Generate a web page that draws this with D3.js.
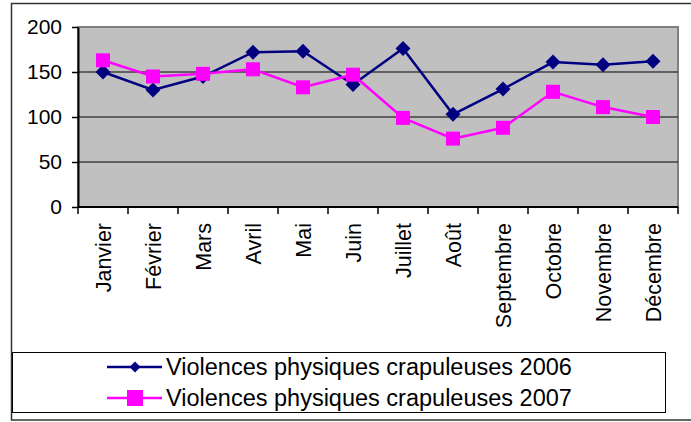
<!DOCTYPE html>
<html>
<head>
<meta charset="utf-8">
<script src="https://cdn.jsdelivr.net/npm/d3@7"></script>
<style>
  body { margin: 0; background: #fff; }
  svg { display: block; font-family: Arial, "Liberation Sans", sans-serif; }
</style>
</head>
<body>
<svg id="chart"></svg>
<script>
// data
var months = ["Janvier", "Février", "Mars", "Avril", "Mai", "Juin",
  "Juillet", "Août", "Septembre", "Octobre", "Novembre", "Décembre"]
var v2006 = [150, 130, 145, 172, 173, 136, 176, 103, 131, 161, 158, 162]
var v2007 = [163, 145, 148, 153, 133, 147, 99, 76, 88, 128, 111, 100]
var yTicks = [0, 50, 100, 150, 200]
var seriesNames = ["Violences physiques crapuleuses 2006", "Violences physiques crapuleuses 2007"]

var width = 691,
  height = 422

var svg = d3.select("#chart")
  .attr("width", width)
  .attr("height", height)

// outer chart border
svg.append("rect")
  .attr("x", 11.5).attr("y", 3.5)
  .attr("width", 690).attr("height", 416.5)
  .style("fill", "#fff")
  .style("stroke", "#333")
  .style("stroke-width", 1.5)

var x = d3.scaleBand().domain(months).range([78, 678])
var y = d3.scaleLinear().domain([0, 200]).range([207, 27])

/*
 * Plot area
 */

svg.append("rect")
  .attr("x", x.range()[0]).attr("y", y(200))
  .attr("width", x.range()[1] - x.range()[0])
  .attr("height", y(0) - y(200))
  .style("fill", "#c0c0c0")
  .style("stroke", "#808080")
  .style("stroke-width", 2)

// gridlines
svg.selectAll("line.grid")
  .data(yTicks.filter(function (d) { return d > 0 && d < 200 }))
  .enter()
  .append("line")
  .attr("class", "grid")
  .attr("x1", x.range()[0]).attr("x2", x.range()[1])
  .attr("y1", function (d) { return y(d) })
  .attr("y2", function (d) { return y(d) })
  .style("stroke", "#000")
  .style("stroke-width", 1)

// y axis
var yAxis = svg.append("g")
  .attr("transform", "translate(" + x.range()[0] + ",0)")
  .call(d3.axisLeft(y).tickValues(yTicks).tickSize(6).tickSizeOuter(0).tickPadding(10))
yAxis.select(".domain").style("stroke", "#000").style("stroke-width", 2)
yAxis.selectAll(".tick line").style("stroke", "#000").style("stroke-width", 1.5)
yAxis.selectAll(".tick text")
  .style("font-family", "Arial, 'Liberation Sans', sans-serif")
  .style("font-size", "21px")
  .style("fill", "#000")

// x axis
var xAxis = svg.append("g")
svg.append("line")
  .attr("x1", x.range()[0]).attr("x2", x.range()[1])
  .attr("y1", y(0)).attr("y2", y(0))
  .style("stroke", "#000").style("stroke-width", 2)

xAxis.selectAll("line.xtick")
  .data(months.map(function (m) { return x(m) }).concat([x.range()[1]]))
  .enter()
  .append("line")
  .attr("class", "xtick")
  .attr("x1", function (d) { return d }).attr("x2", function (d) { return d })
  .attr("y1", y(0)).attr("y2", y(0) + 7)
  .style("stroke", "#000").style("stroke-width", 1.5)

xAxis.selectAll("text.xlab")
  .data(months)
  .enter()
  .append("text")
  .attr("class", "xlab")
  .attr("transform", function (d) {
    return "translate(" + (x(d) + x.bandwidth() / 2) + "," + (y(0) + 16) + ") rotate(-90)"
  })
  .attr("text-anchor", "end")
  .attr("dy", "0.35em")
  .style("font-size", "21.5px")
  .text(function (d) { return d })

/*
 * Series
 */

var line = d3.line()
  .x(function (d, i) { return x(months[i]) + x.bandwidth() / 2 })
  .y(function (d) { return y(d) })

var diamond = "M0,-7.5L7.5,0L0,7.5L-7.5,0Z"

svg.append("path")
  .datum(v2006)
  .attr("d", line)
  .style("fill", "none")
  .style("stroke", "#000080")
  .style("stroke-width", 2.5)

svg.selectAll("path.m2006")
  .data(v2006)
  .enter()
  .append("path")
  .attr("class", "m2006")
  .attr("d", diamond)
  .attr("transform", function (d, i) {
    return "translate(" + (x(months[i]) + x.bandwidth() / 2) + "," + y(d) + ")"
  })
  .style("fill", "#000080")

svg.append("path")
  .datum(v2007)
  .attr("d", line)
  .style("fill", "none")
  .style("stroke", "#ff00ff")
  .style("stroke-width", 2.5)

svg.selectAll("rect.m2007")
  .data(v2007)
  .enter()
  .append("rect")
  .attr("class", "m2007")
  .attr("x", function (d, i) { return x(months[i]) + x.bandwidth() / 2 - 7 })
  .attr("y", function (d) { return y(d) - 7 })
  .attr("width", 14).attr("height", 14)
  .style("fill", "#ff00ff")

/*
 * Legend
 */

var legend = svg.append("g")
legend.append("rect")
  .attr("x", 12.5).attr("y", 352.5)
  .attr("width", 653).attr("height", 60)
  .style("fill", "#fff")
  .style("stroke", "#000")
  .style("stroke-width", 1)

var colors = ["#000080", "#ff00ff"]
var item = legend.selectAll("g.item")
  .data(seriesNames)
  .enter()
  .append("g")
  .attr("class", "item")
  .attr("transform", function (d, i) { return "translate(0," + (367 + i * 31) + ")" })

item.append("line")
  .attr("x1", 107).attr("x2", 162)
  .style("stroke", function (d, i) { return colors[i] })
  .style("stroke-width", 2.5)

item.filter(function (d, i) { return i === 0 })
  .append("path")
  .attr("d", "M0,-5.5L5.5,0L0,5.5L-5.5,0Z")
  .attr("transform", "translate(135,0)")
  .style("fill", colors[0])

item.filter(function (d, i) { return i === 1 })
  .append("rect")
  .attr("x", 127).attr("y", -8)
  .attr("width", 16).attr("height", 16)
  .style("fill", colors[1])

item.append("text")
  .attr("x", 166)
  .attr("dy", "0.35em")
  .style("font-size", "23.5px")
  .text(function (d) { return d })
</script>
</body>
</html>
